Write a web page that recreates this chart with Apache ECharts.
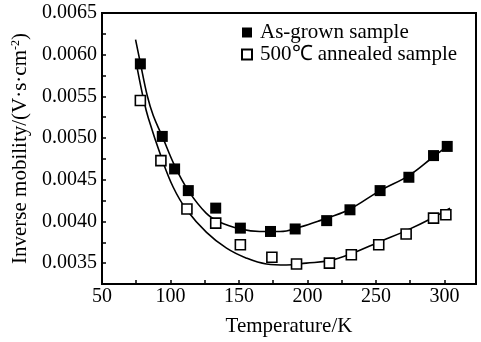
<!DOCTYPE html>
<html><head><meta charset="utf-8">
<script src="https://cdn.jsdelivr.net/npm/echarts@6/dist/echarts.min.js"></script>
<style>html,body{margin:0;padding:0;background:#fff}#c{width:481px;height:342px}</style>
</head><body><div id="c"></div>
<script>
const asGrownT = [78, 94, 103, 113, 133, 151, 173, 191, 214, 231, 253, 274, 292, 302];
const asGrownV = [0.00589, 0.00502, 0.00463, 0.00437, 0.00416, 0.00392, 0.00388, 0.00391, 0.00401, 0.00414, 0.00437, 0.00453, 0.00479, 0.00490];
const annealedT = [78, 93, 112, 133, 151, 174, 192, 216, 232, 252, 272, 292, 301];
const annealedV = [0.00545, 0.00473, 0.00415, 0.00398, 0.00372, 0.00357, 0.00349, 0.00350, 0.00360, 0.00372, 0.00385, 0.00404, 0.00408];
const fitAsGrownT = [74.5, 78, 83, 87.4, 94, 103, 113, 126, 136, 151, 165, 180, 194, 209, 230, 253, 274, 291.5, 305];
const fitAsGrownV = [0.00618, 0.00590, 0.00551, 0.00527, 0.00502, 0.00467, 0.00437, 0.00410, 0.00399, 0.00391, 0.00388, 0.00388, 0.00393, 0.00401, 0.00414, 0.00437, 0.00455, 0.00477, 0.00494];
const fitAnnealedT = [75.8, 80.4, 83.8, 93.5, 102, 111.7, 126.3, 140.9, 155.5, 170, 184.6, 199.1, 216, 233, 252.4, 272.1, 291.5, 304];
const fitAnnealedV = [0.00583, 0.00546, 0.00524, 0.00476, 0.00441, 0.00414, 0.00387, 0.00368, 0.00356, 0.00349, 0.003477, 0.00350, 0.00353, 0.00362, 0.003755, 0.00389, 0.004045, 0.00416];
const seriesNames = ['As-grown sample', '500℃ annealed sample'];
const xTitle = 'Temperature/K';

const zip = (a, b) => a.map((v, i) => [v, b[i]]);
const FONT = '"Liberation Serif", "Times New Roman", serif';

const chart = echarts.init(document.getElementById('c'), null, {renderer: 'canvas'});
chart.setOption({
  animation: false,
  backgroundColor: '#fff',
  textStyle: {fontFamily: FONT, color: '#000'},
  grid: {left: 102, top: 13, right: 5, bottom: 49, show: true, borderColor: '#000', borderWidth: 2, containLabel: false},
  legend: {
    orient: 'vertical', left: 236, top: 17, itemWidth: 10, itemHeight: 10, itemGap: 1,
    data: seriesNames,
    textStyle: {fontFamily: FONT, fontSize: 21, color: '#000', padding: [0, 0, 0, 3]}
  },
  xAxis: {
    type: 'value', min: 50, max: 323, interval: 25,
    name: xTitle, nameLocation: 'middle', nameGap: 32,
    nameTextStyle: {fontFamily: FONT, fontSize: 21, color: '#000'},
    axisLine: {show: true, lineStyle: {color: '#000', width: 2}},
    axisTick: {show: true, inside: true, length: 4, lineStyle: {color: '#000', width: 1.5}},
    axisLabel: {fontFamily: FONT, fontSize: 20, color: '#000', margin: 3,
      formatter: v => (Math.abs(v % 50) < 1e-6 ? String(v) : '')},
    splitLine: {show: false}
  },
  yAxis: {
    type: 'value', min: 0.00325, max: 0.0065, interval: 0.00025,
    name: '{n|Inverse mobility/(V·s·cm}{s|-2}{n|)}', nameLocation: 'middle', nameGap: 70,
    nameTextStyle: {fontFamily: FONT, fontSize: 21, color: '#000',
      rich: {n: {fontFamily: FONT, fontSize: 21, color: '#000'}, s: {fontFamily: FONT, fontSize: 12, color: '#000', verticalAlign: 'top'}}},
    axisLine: {show: true, lineStyle: {color: '#000', width: 2}},
    axisTick: {show: true, inside: true, length: 4, lineStyle: {color: '#000', width: 1.5}},
    axisLabel: {fontFamily: FONT, fontSize: 20, color: '#000', margin: 5,
      formatter: v => (Math.round(v / 0.00025) % 2 === 0 ? v.toFixed(4) : '')},
    splitLine: {show: false}
  },
  series: [
    {type: 'line', name: 'fit1', data: zip(fitAsGrownT, fitAsGrownV), smooth: 0.4, showSymbol: false, symbol: 'none',
      lineStyle: {color: '#000', width: 1.6}, z: 1, silent: true},
    {type: 'line', name: 'fit2', data: zip(fitAnnealedT, fitAnnealedV), smooth: 0.4, showSymbol: false, symbol: 'none',
      lineStyle: {color: '#000', width: 1.6}, z: 1, silent: true},
    {type: 'scatter', name: seriesNames[0], data: zip(asGrownT, asGrownV), symbol: 'rect', symbolSize: 11,
      itemStyle: {color: '#000', borderColor: '#000', borderWidth: 0, opacity: 1}, z: 3},
    {type: 'scatter', name: seriesNames[1], data: zip(annealedT, annealedV), symbol: 'rect', symbolSize: 10,
      itemStyle: {color: '#fff', borderColor: '#000', borderWidth: 1.6, opacity: 1}, z: 3}
  ]
});
</script>
</body></html>
